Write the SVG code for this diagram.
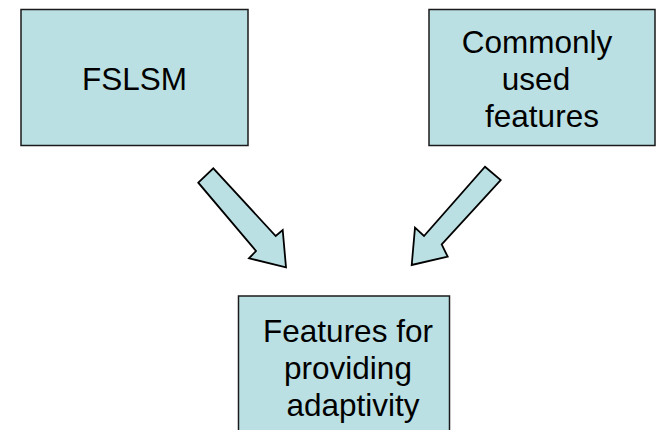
<svg xmlns="http://www.w3.org/2000/svg" width="656" height="430" viewBox="0 0 656 430">
  <style>
    .box { fill: #BBE0E3; stroke: #1a1a1a; stroke-width: 1.5; }
    .arrow { fill: #BBE0E3; stroke: #000; stroke-width: 1.8; stroke-linejoin: miter; }
    .label { font-family: "Liberation Sans", Arial, sans-serif; font-size: 31.5px; fill: #000; text-anchor: middle; }
  </style>
  <rect width="656" height="430" fill="#fff"/>

  <g id="fslsm">
    <rect class="box" x="21" y="9.5" width="227" height="136"/>
    <text class="label" x="134.5" y="90">FSLSM</text>
  </g>

  <g id="common-features">
    <rect class="box" x="429" y="9.5" width="226" height="136"/>
    <text class="label" x="537" y="53">Commonly</text>
    <text class="label" x="536" y="90">used</text>
    <text class="label" x="542" y="127">features</text>
  </g>

  <g id="adaptivity-features">
    <rect class="box" x="238.5" y="296" width="211" height="140"/>
    <text class="label" x="348" y="342">Features for</text>
    <text class="label" x="348" y="379">providing</text>
    <text class="label" x="353" y="416">adaptivity</text>
  </g>

  <g id="connectors">
    <polygon class="arrow" points="198.3,182.7 213.3,168.3 275.7,236 282.7,230 286,267.3 249,258.3 256,251"/>
    <polygon class="arrow" points="485,166.7 500.7,180 441.7,244.3 447.7,256.7 411.7,265 415,227.7 424,236"/>
  </g>
</svg>
